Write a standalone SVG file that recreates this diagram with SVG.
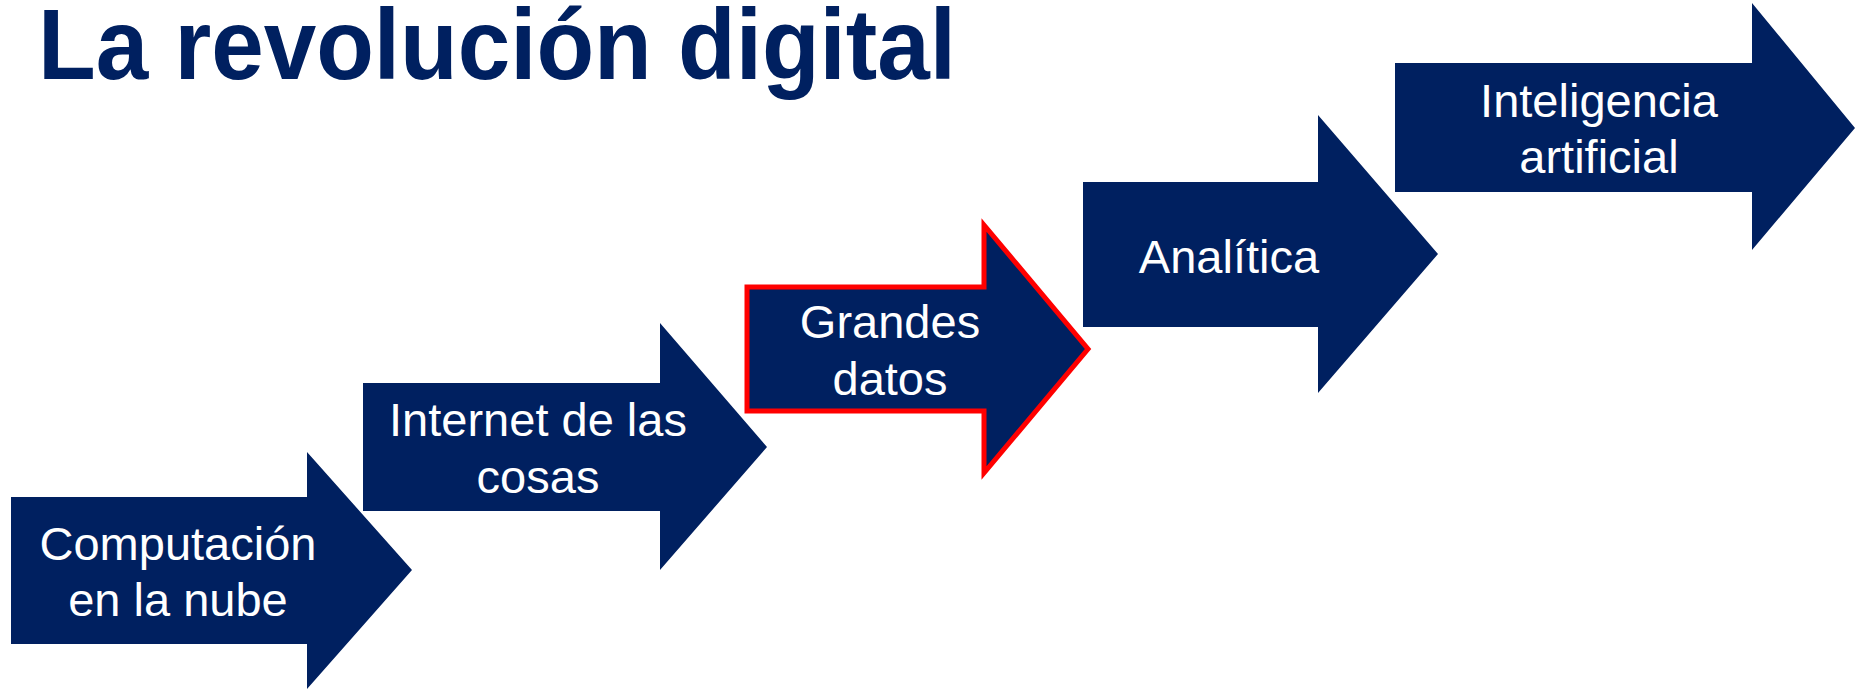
<svg xmlns="http://www.w3.org/2000/svg" width="1855" height="692" viewBox="0 0 1855 692">
<style>
.arrow{fill:#002060;}
.hl{stroke:#FF0000;stroke-width:5;stroke-linejoin:miter;}
.lbl{font-family:"Liberation Sans",Arial,sans-serif;font-size:47px;fill:#FFFFFF;text-anchor:middle;}
.title{font-family:"Liberation Sans",Arial,sans-serif;font-size:100px;font-weight:bold;fill:#002060;}
</style>
<rect width="1855" height="692" fill="#FFFFFF"/>
<text class="title" x="38" y="79" textLength="918" lengthAdjust="spacingAndGlyphs">La revolución digital</text>
<g id="connectors"></g>
<g id="n1">
<path class="arrow" d="M11,497 H307 V452 L412,570 L307,689 V644 H11 Z"/>
<text class="lbl" x="178" y="560">Computación</text>
<text class="lbl" x="178" y="616">en la nube</text>
</g>
<g id="n2">
<path class="arrow" d="M363,383 H660 V323 L767,447 L660,570 V511 H363 Z"/>
<text class="lbl" x="538" y="436">Internet de las</text>
<text class="lbl" x="538" y="493">cosas</text>
</g>
<g id="n3">
<path class="arrow hl" d="M747,287 H984 V225 L1088,349 L984,473 V411 H747 Z"/>
<text class="lbl" x="890" y="338">Grandes</text>
<text class="lbl" x="890" y="395">datos</text>
</g>
<g id="n4">
<path class="arrow" d="M1083,182 H1318 V115 L1438,254 L1318,393 V327 H1083 Z"/>
<text class="lbl" x="1229" y="273">Analítica</text>
</g>
<g id="n5">
<path class="arrow" d="M1395,63 H1752 V3 L1855,128 L1752,250 V192 H1395 Z"/>
<text class="lbl" x="1599" y="117">Inteligencia</text>
<text class="lbl" x="1599" y="173">artificial</text>
</g>
</svg>
